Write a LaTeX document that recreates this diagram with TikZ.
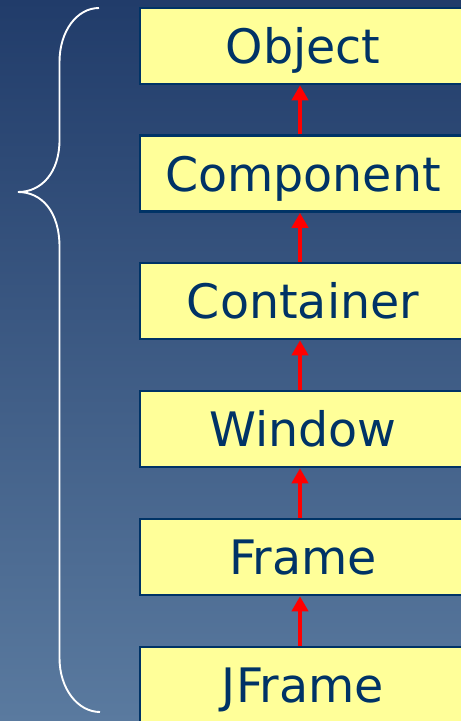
\documentclass[tikz,border=0pt]{standalone}
\usepackage{fontspec}
\setmainfont{DejaVu Sans}
\usetikzlibrary{arrows.meta}
\definecolor{bgtop}{HTML}{213C6A}
\definecolor{bgbottom}{HTML}{5A7A9F}
\definecolor{navy}{HTML}{003366}
\definecolor{boxfill}{HTML}{FFFF99}
\tikzset{
  classbox/.style={draw=navy, line width=2.5pt, fill=boxfill, text=navy,
    minimum width=326pt, minimum height=76pt, inner sep=0pt,
    text height=35pt, text depth=0pt,
    font=\fontsize{47.5}{50}\selectfont},
  inherits/.style={draw=red, line width=4.5pt,
    -{Triangle[width=16pt,length=15pt]}},
  bracket/.style={draw=white, line width=1.9pt}
}
\begin{document}
\begin{tikzpicture}[x=1pt,y=1pt]
  \useasboundingbox (0,0) rectangle (461,-721);
  \clip (0,0) rectangle (461,-721);
  \shade[top color=bgtop, bottom color=bgbottom] (0,0) rectangle (461,-721);

  % class hierarchy, top to bottom
  \node[classbox] (object)    at (303,-46)    {Object};
  \node[classbox] (component) at (303,-173.5) {Component};
  \node[classbox] (container) at (303,-301)   {Container};
  \node[classbox] (window)    at (303,-429)   {Window};
  \node[classbox] (frame)     at (303,-557)   {Frame};
  \node[classbox] (jframe)    at (303,-685)   {JFrame};

  % superclass arrows
  \foreach \sub/\super in {component/object, container/component,
                           window/container, frame/window, jframe/frame}
    \draw[inherits] ([xshift=-3pt]\sub.north) -- ([xshift=-3pt]\super.south);

  % curly brace spanning the hierarchy
  \draw[bracket] (99,-8) .. controls (77,-8) and (59.5,-31) .. (59.5,-62)
    -- (59.5,-140) .. controls (59.5,-172) and (42,-192) .. (18,-192)
    .. controls (42,-192) and (59.5,-212) .. (59.5,-247)
    -- (59.5,-658) .. controls (59.5,-689) and (78,-712) .. (100,-712);
\end{tikzpicture}
\end{document}
